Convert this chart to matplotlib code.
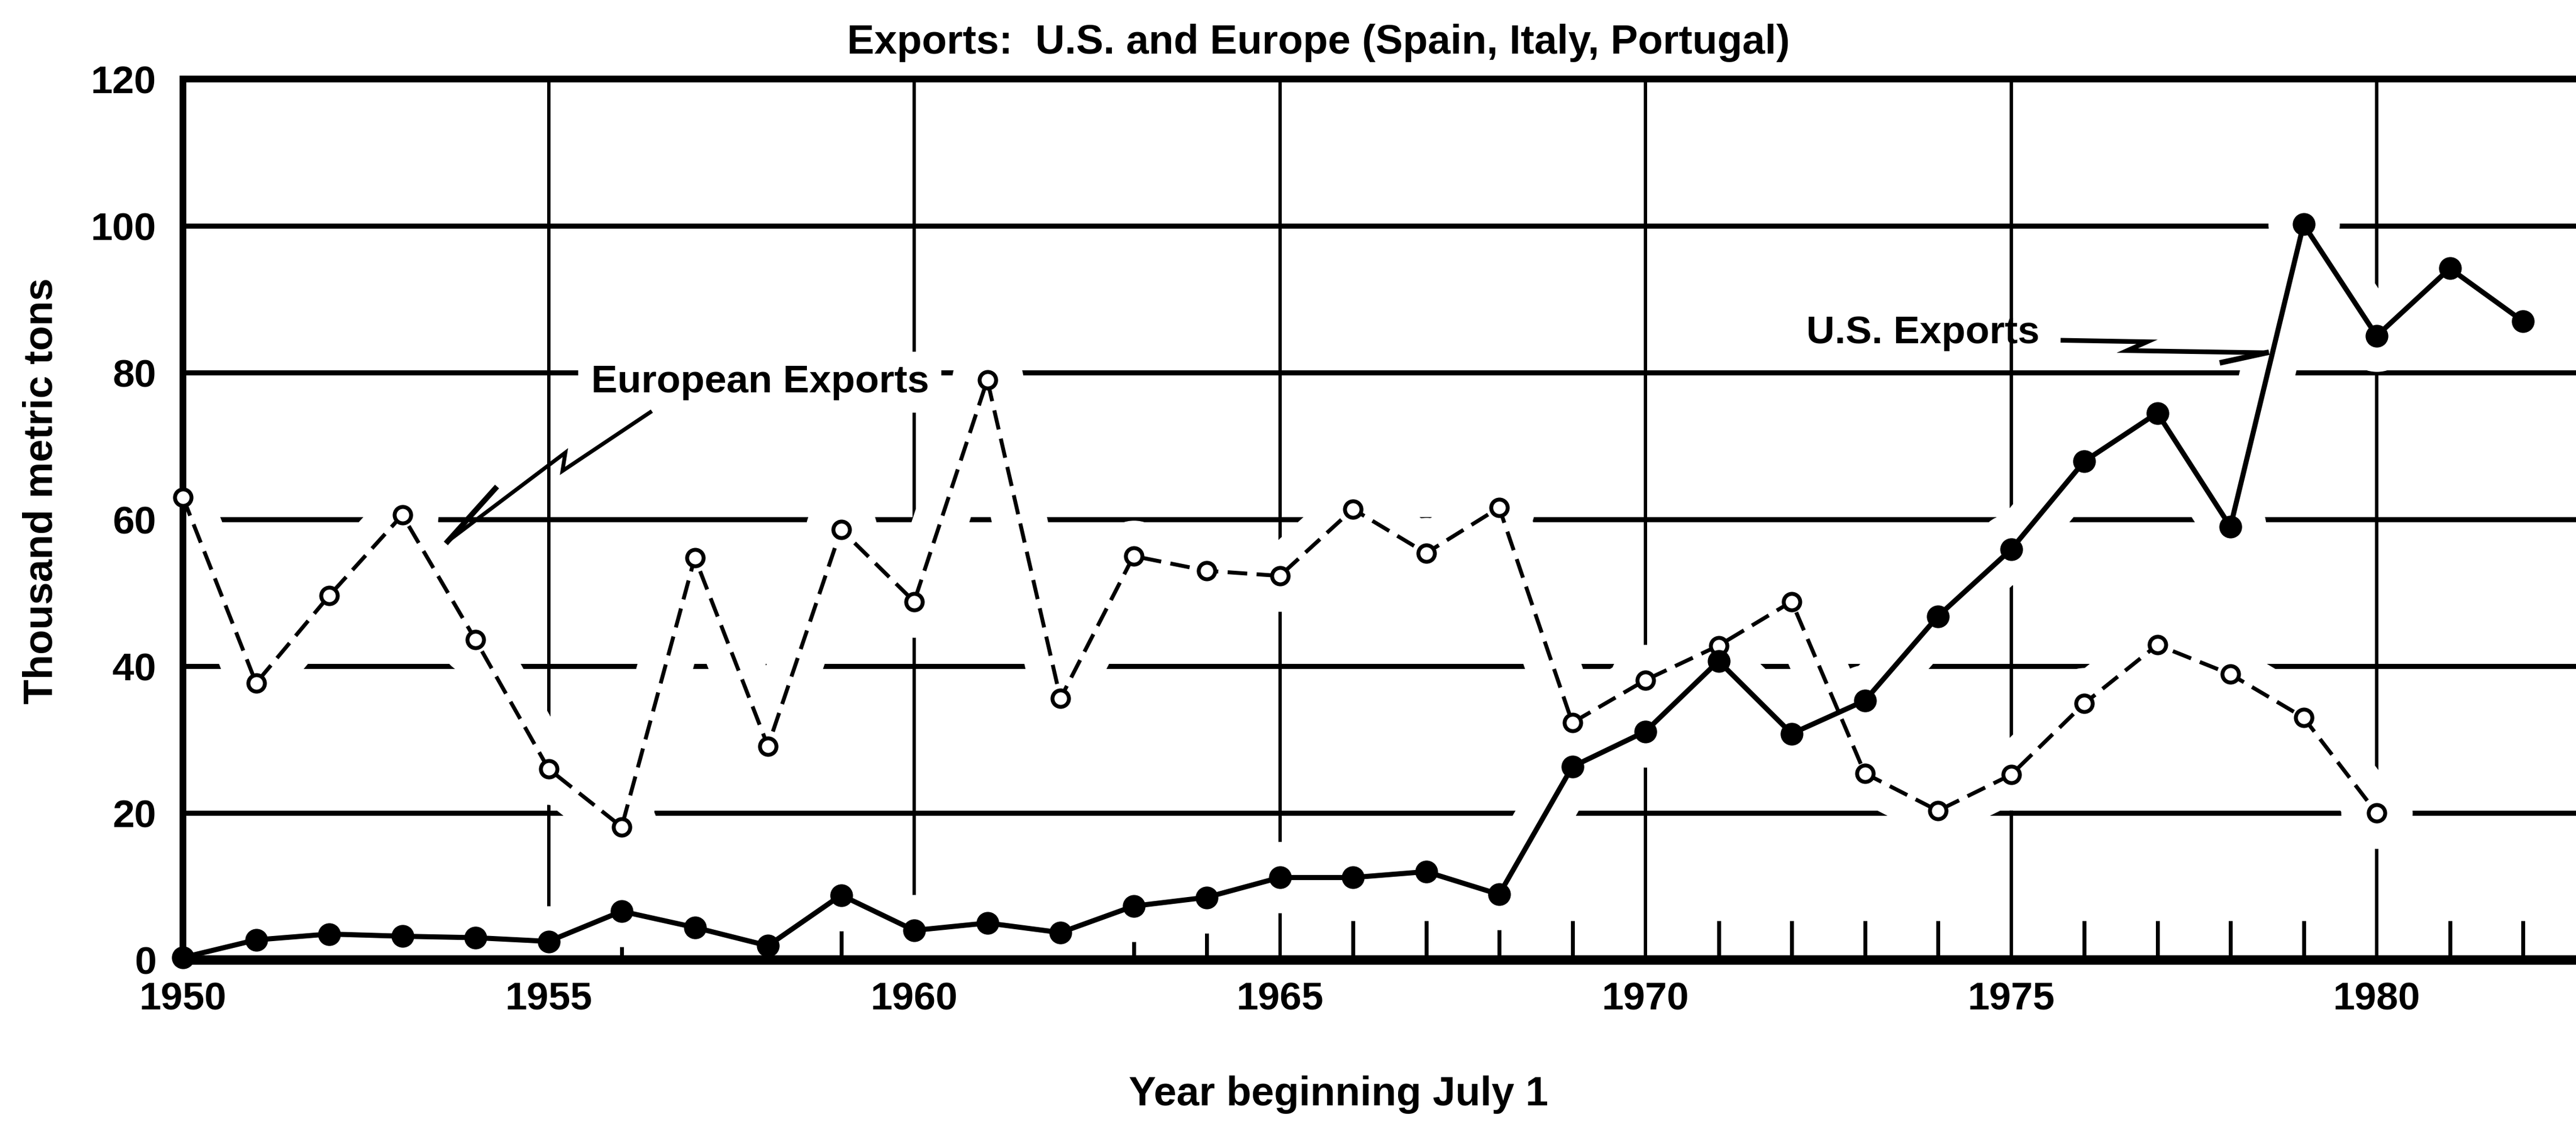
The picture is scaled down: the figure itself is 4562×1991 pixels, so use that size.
"""
Exports chart : U.S. and Europe (Spain, Italy, Portugal), 1950-1982
"""

import numpy as np
import matplotlib
matplotlib.use('Agg')
import matplotlib.pyplot as plt
from matplotlib.ticker import MultipleLocator

# ---- data (thousand metric tons, year beginning July 1) ----
years_eu = np.arange(1950, 1981)
europe = [63.0, 37.7, 49.6, 60.6, 43.6, 26.0, 18.1, 54.8, 29.1, 58.6,
          48.8, 79.0, 35.6, 55.0, 53.0, 52.3, 61.4, 55.4, 61.6, 32.3,
          38.1, 42.8, 48.8, 25.4, 20.3, 25.2, 34.9, 42.9, 38.9, 33.0,
          20.0]

years_us = np.arange(1950, 1983)
us = [0.3, 2.7, 3.5, 3.2, 3.0, 2.5, 6.6, 4.4, 1.9, 8.8,
      4.0, 5.0, 3.7, 7.3, 8.5, 11.2, 11.2, 12.0, 8.9, 26.3,
      31.1, 40.7, 30.8, 35.3, 46.8, 55.9, 67.9, 74.5, 59.0, 100.2,
      85.0, 94.2, 87.0]

x_major = [1950, 1955, 1960, 1965, 1970, 1975, 1980]
x_labels = ['1950', '1955', '1960', '1965', '1970', '1975', '1980']
y_major = [0, 20, 40, 60, 80, 100, 120]

# callout labels and zig-zag pointers (data coords)
eu_label = 'European Exports'
eu_label_xy = (1955.58, 78.7)
eu_arrow_x = [1956.39, 1955.19, 1955.23, 1953.62]
eu_arrow_y = [74.6, 66.6, 69.1, 57.0]
eu_barb_x = [1954.27, 1953.62]
eu_barb_y = [64.2, 57.0]

us_label = 'U.S. Exports'
us_label_xy = (1975.39, 85.4)
us_arrow_x = [1975.71, 1976.86, 1976.59, 1978.49]
us_arrow_y = [84.4, 84.2, 83.0, 82.7]
us_barb_x = [1977.89, 1978.49]
us_barb_y = [81.4, 82.7]

plt.rcParams['font.family'] = ['Liberation Sans', 'DejaVu Sans']
plt.rcParams['font.weight'] = 'bold'

W, H = 4562, 1991
fig = plt.figure(figsize=(W / 100, H / 100), dpi=100)
ax = fig.add_axes([324 / W, 1 - 1700 / H, (W - 324) / W, (1700 - 140) / H])

ax.set_xlim(1950, 1950 + (W - 324) / 129.5)
ax.set_ylim(0, 120)

# grid : heavy horizontal, lighter vertical
ax.set_xticks(x_major)
ax.set_xticklabels(x_labels)
ax.set_yticks(y_major)
ax.xaxis.set_minor_locator(MultipleLocator(1))
ax.grid(axis='y', color='black', lw=6.5)
ax.grid(axis='x', color='black', lw=4.3)

ax.tick_params(axis='x', which='major', length=0, pad=28, labelsize=50)
ax.tick_params(axis='x', which='minor', direction='in', length=50, width=5)
ax.tick_params(axis='y', length=0, pad=34, labelsize=50)

for side, lw in [('left', 8.6), ('bottom', 12), ('top', 8.6)]:
    ax.spines[side].set_linewidth(lw)
ax.spines['right'].set_visible(False)

# white halos break the grid around the series like the hand-drawn original
for xs, ys in [(years_eu, europe), (years_us, us)]:
    ax.plot(xs, ys, color='white', lw=70, marker='o', ms=90, mfc='white', mec='white',
            solid_joinstyle='round', solid_capstyle='round', zorder=1.8)

ax.plot(years_eu, europe, color='black', lw=5, ls=(0, (5, 2.4)), marker='o', ms=21,
        mfc='white', mec='black', mew=5, zorder=3, clip_on=False)
ax.plot(years_us, us, color='black', lw=6.5, marker='o', ms=28,
        mfc='black', mec='black', zorder=4, clip_on=False)

# callouts
ax.text(eu_label_xy[0], eu_label_xy[1], eu_label, fontsize=50, fontweight='bold',
        ha='left', va='center', zorder=5,
        bbox=dict(facecolor='white', edgecolor='none', pad=16))
ax.plot(eu_arrow_x, eu_arrow_y, color='black', lw=5, zorder=5, solid_joinstyle='miter')
ax.plot(eu_barb_x, eu_barb_y, color='black', lw=7, zorder=5)

ax.text(us_label_xy[0], us_label_xy[1], us_label, fontsize=50, fontweight='bold',
        ha='right', va='center', zorder=5)
ax.plot(us_arrow_x, us_arrow_y, color='black', lw=6, zorder=5, solid_joinstyle='miter')
ax.plot(us_barb_x, us_barb_y, color='black', lw=7, zorder=5)

# titles
fig.text(2335 / W, 1 - 95 / H, 'Exports:  U.S. and Europe (Spain, Italy, Portugal)',
         fontsize=52, fontweight='bold', ha='center', va='baseline')
fig.text(74 / W, 1 - 870 / H, 'Thousand metric tons', fontsize=52, fontweight='bold',
         rotation=90, ha='center', va='center')
fig.text(2370 / W, 1 - 1958 / H, 'Year beginning July 1', fontsize=52, fontweight='bold',
         ha='center', va='baseline')

fig.savefig('out.png', dpi=100)
plt.close()
